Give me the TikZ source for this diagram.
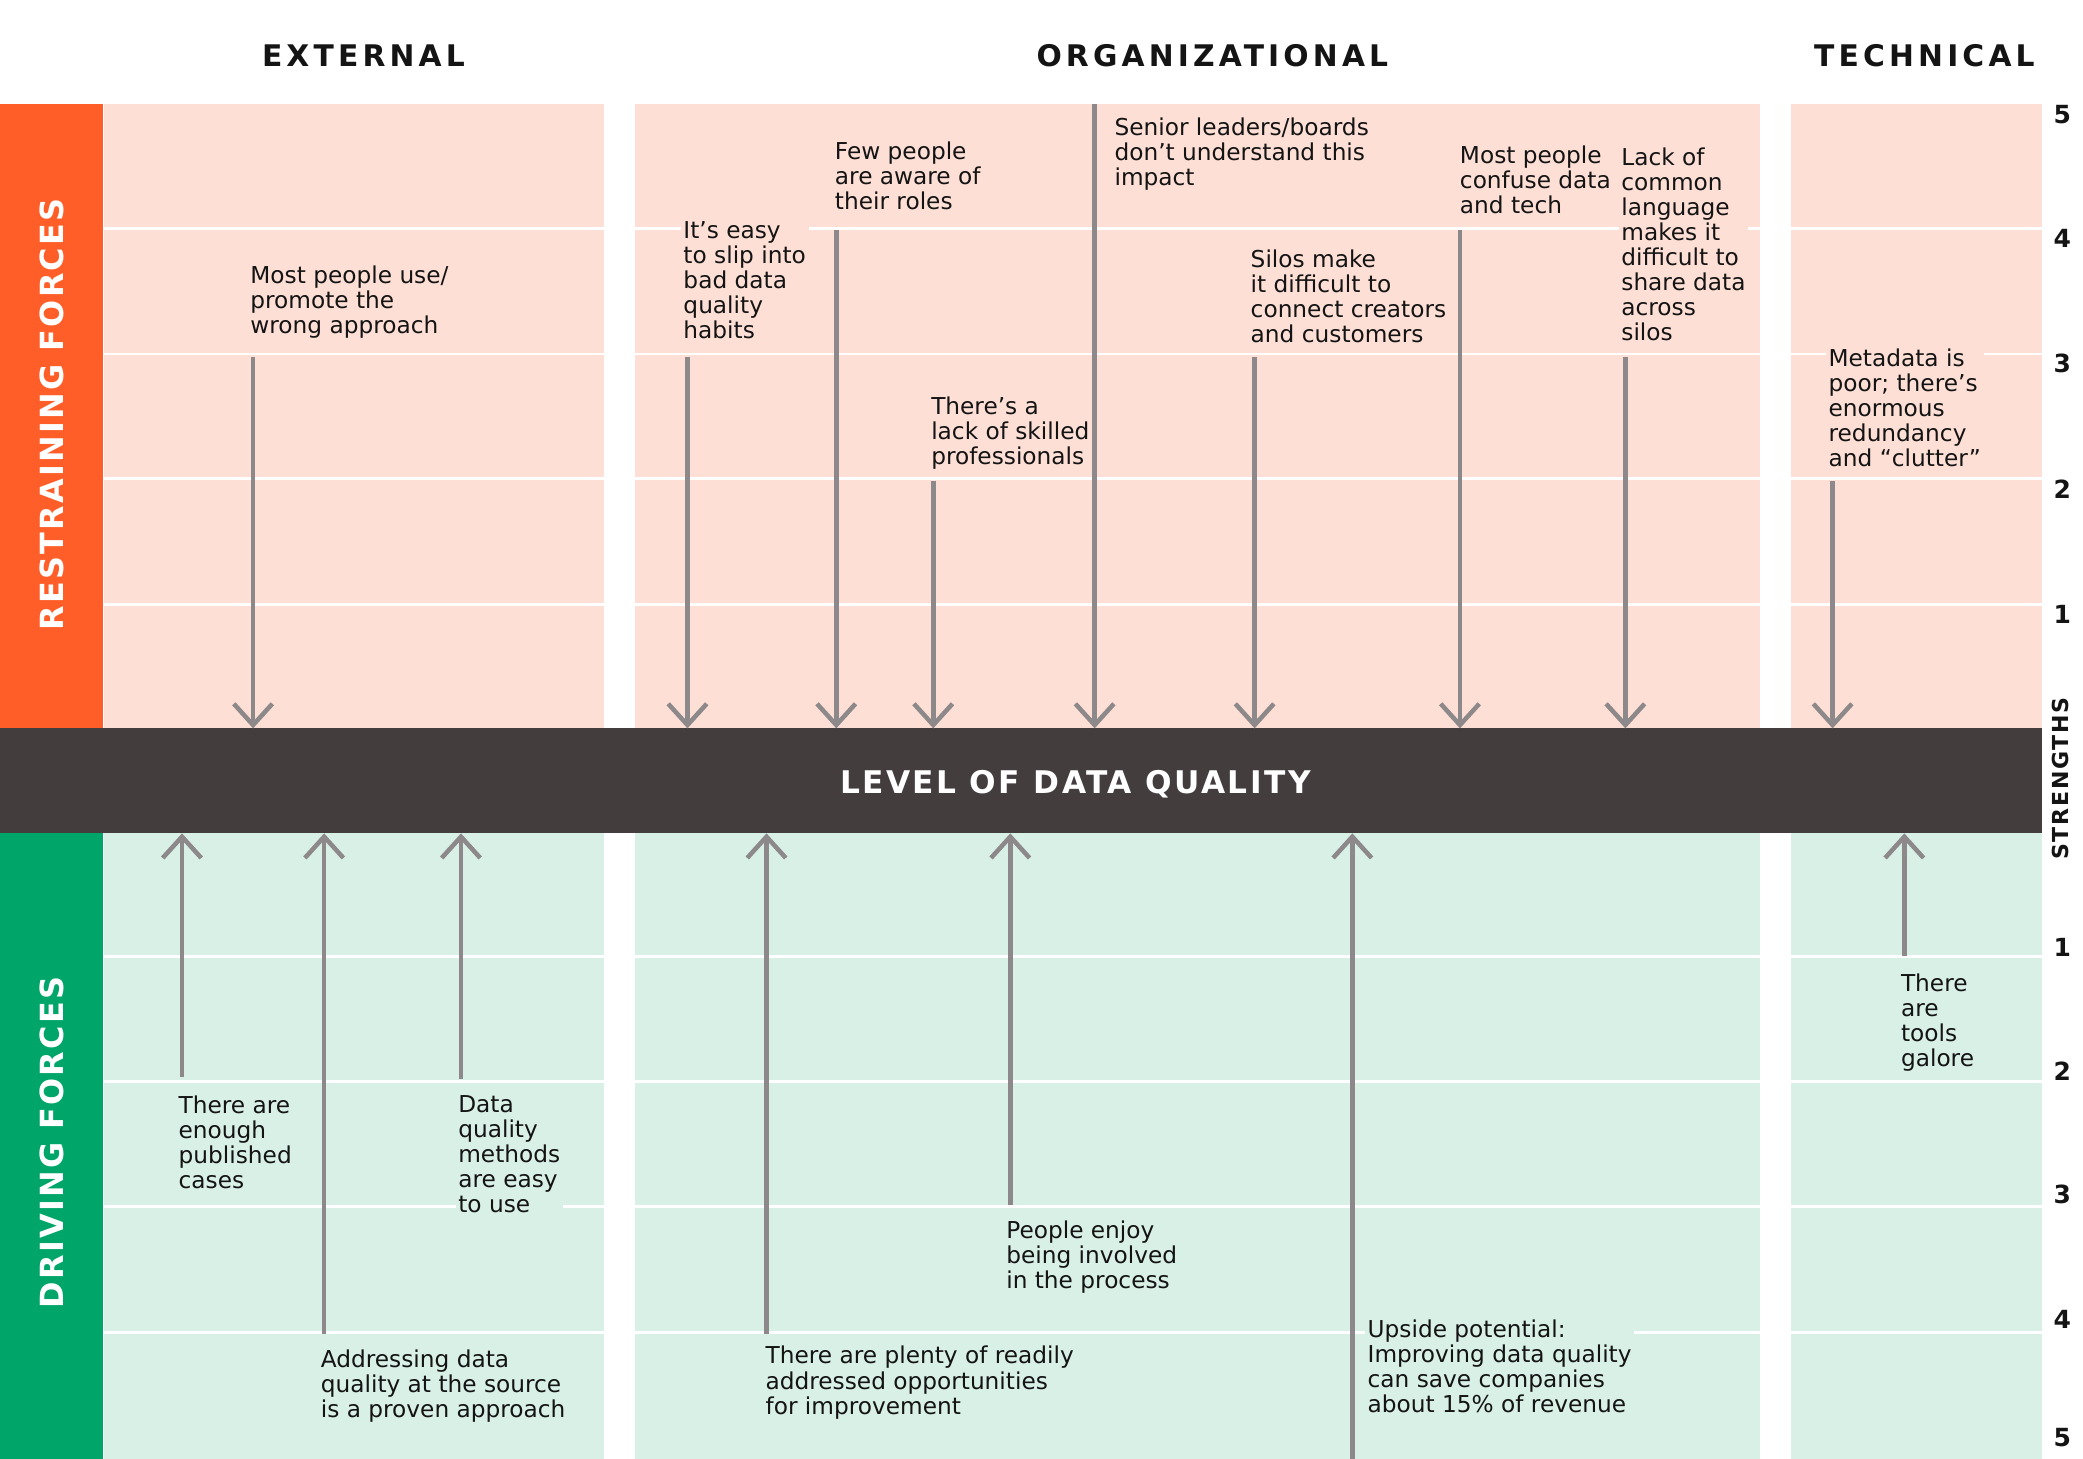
\documentclass[tikz,border=0pt]{standalone}
\usepackage{fontspec}
\setmainfont{DejaVu Sans}
\newfontfamily\hdfont{DejaVu Sans}[LetterSpace=14]
\newfontfamily\bandfont{DejaVu Sans}[LetterSpace=7]
\newfontfamily\lvlfont{DejaVu Sans}[LetterSpace=8]
\newfontfamily\strfont{DejaVu Sans}[LetterSpace=8]
\usetikzlibrary{arrows.meta}
\definecolor{orangeband}{RGB}{255,94,40}
\definecolor{pinkp}{RGB}{253,223,213}
\definecolor{greenband}{RGB}{0,165,105}
\definecolor{mintp}{RGB}{217,240,231}
\definecolor{barc}{RGB}{67,61,62}
\definecolor{arrowc}{RGB}{141,136,137}
\definecolor{textc}{RGB}{20,20,20}
\newcommand\bodyfont{\fontsize{8.75pt}{9.45pt}\selectfont}
\begin{document}
\begin{tikzpicture}[x=0.5pt,y=-0.5pt,
  lbl/.style={anchor=north west, align=left, font=\bodyfont, text=textc,
              inner xsep=1pt, inner ysep=1pt, outer sep=0pt},
  uplbl/.style={lbl, fill=pinkp},
  dnlbl/.style={lbl, fill=mintp},
  hdr/.style={anchor=base, inner sep=0pt, text=textc,
              font=\hdfont\bfseries\fontsize{11.2pt}{12pt}\selectfont},
  bandlbl/.style={anchor=base, inner sep=0pt, text=white, rotate=90,
              font=\bandfont\bfseries\fontsize{12pt}{13pt}\selectfont},
  lvl/.style={anchor=base, inner sep=0pt, text=white,
              font=\lvlfont\bfseries\fontsize{11.75pt}{12pt}\selectfont},
  num/.style={anchor=base, inner sep=0pt, text=textc,
              font=\bfseries\fontsize{9.4pt}{10pt}\selectfont},
  strl/.style={anchor=base, inner sep=0pt, text=textc, rotate=90,
              font=\strfont\bfseries\fontsize{8.3pt}{9pt}\selectfont},
  gridl/.style={white, line width=1.1pt},
  arr/.style={draw=arrowc, line width=1.7pt, -{Straight Barb[length=8pt,width=14.5pt]}}
]
\useasboundingbox (0,0) rectangle (1568,1098);

% side bands
\fill[orangeband] (0,78.3) rectangle (77.3,548.3);
\fill[greenband] (0,627.3) rectangle (77.3,1098);

% panels
\fill[pinkp] (78.2,78.3) rectangle (455,548.3);
\fill[pinkp] (478,78.3) rectangle (1325,548.3);
\fill[pinkp] (1348,78.3) rectangle (1537,548.3);
\fill[mintp] (78.2,627.3) rectangle (455,1098);
\fill[mintp] (478,627.3) rectangle (1325,1098);
\fill[mintp] (1348,627.3) rectangle (1537,1098);

% grid lines
\foreach \yy in {172.3,266.5,360.5,454.8,720,814,908,1003}{
  \draw[gridl] (78.2,\yy) -- (455,\yy);
  \draw[gridl] (478,\yy) -- (1325,\yy);
  \draw[gridl] (1348,\yy) -- (1537,\yy);
}

% central bar
\node[fill=barc, minimum width=768.5pt, minimum height=39.5pt, inner sep=0pt,
      outer sep=0pt, anchor=north west] (bar) at (0,548.3) {};
\node[lvl] (lvltext) at (809.5,597.6) {LEVEL OF DATA QUALITY};

% headers
\node[hdr] (hext) at (273.6,50.2) {EXTERNAL};
\node[hdr] (horg) at (912.6,50.2) {ORGANIZATIONAL};
\node[hdr] (htech) at (1448.6,50.2) {TECHNICAL};

% band labels
\node[bandlbl] (restr) at (47.6,312) {RESTRAINING FORCES};
\node[bandlbl] (drive) at (47.6,860) {DRIVING FORCES};

% strengths scale
\node[strl] (strg) at (1557,586) {STRENGTHS};
\node[num] (u5) at (1552.5,93) {5};
\node[num] (u4) at (1552.5,186.5) {4};
\node[num] (u3) at (1552.5,280.5) {3};
\node[num] (u2) at (1552.5,375) {2};
\node[num] (u1) at (1552.5,469) {1};
\node[num] (d1) at (1552.5,719.7) {1};
\node[num] (d2) at (1552.5,813.7) {2};
\node[num] (d3) at (1552.5,906.2) {3};
\node[num] (d4) at (1552.5,999.7) {4};
\node[num] (d5) at (1552.5,1089.2) {5};

% restraining force labels
\node[uplbl] (t1) at (186.5,198) {Most people use/\\promote the\\wrong approach};
\node[uplbl] (t2) at (512.5,164.5) {It’s easy\\to slip into\\bad data\\quality\\habits};
\node[uplbl] (t3) at (626.5,104.5) {Few people\\are aware of\\their roles};
\node[uplbl] (t4) at (699,296.5) {There’s a\\lack of skilled\\professionals};
\node[uplbl] (t5) at (837,86.7) {Senior leaders/boards\\don’t understand this\\impact};
\node[uplbl] (t6) at (939.5,186) {Silos make\\it difficult to\\connect creators\\and customers};
\node[uplbl] (t7) at (1097,107.7) {Most people\\confuse data\\and tech};
\node[uplbl] (t8) at (1218.5,109) {Lack of\\common\\language\\makes it\\difficult to\\share data\\across\\silos};
\node[uplbl] (t9) at (1374.5,260.5) {Metadata is\\poor; there’s\\enormous\\redundancy\\and “clutter”};

% driving force labels
\node[dnlbl] (t10) at (132.5,822.6) {There are\\enough\\published\\cases};
\node[dnlbl] (t11) at (239.5,1014) {Addressing data\\quality at the source\\is a proven approach};
\node[dnlbl] (t12) at (343,822.6) {Data\\quality\\methods\\are easy\\to use};
\node[dnlbl] (t13) at (574.3,1011.4) {There are plenty of readily\\addressed opportunities\\for improvement};
\node[dnlbl] (t14) at (755.5,917) {People enjoy\\being involved\\in the process};
\node[dnlbl] (t15) at (1027.5,991.5) {Upside potential:\\Improving data quality\\can save companies\\about 15\% of revenue};
\node[dnlbl] (t16) at (1429,731) {There\\are\\tools\\galore};

% arrow start points
\coordinate (a1) at (190.5,268.5);
\coordinate (a2) at (517.5,268.5);
\coordinate (a3) at (629.5,173.5);
\coordinate (a4) at (702.5,362);
\coordinate (a5) at (824,78.3);
\coordinate (a6) at (944.4,268.5);
\coordinate (a7) at (1099,173.5);
\coordinate (a8) at (1223.5,268.5);
\coordinate (a9) at (1379.5,362);
\coordinate (b1) at (137,811);
\coordinate (b2) at (244,1004.5);
\coordinate (b3) at (347,812.5);
\coordinate (b4) at (577,1004.5);
\coordinate (b5) at (760.5,907);
\coordinate (b6) at (1018,1098);
\coordinate (b7) at (1433.5,720);

% arrows
\foreach \p in {a1,a2,a3,a4,a5,a6,a7,a8,a9}{
  \draw[arr] (\p) -- (\p |- bar.north);
}
\foreach \p in {b1,b2,b3,b4,b5,b6,b7}{
  \draw[arr] (\p) -- (\p |- bar.south);
}
\end{tikzpicture}
\end{document}
